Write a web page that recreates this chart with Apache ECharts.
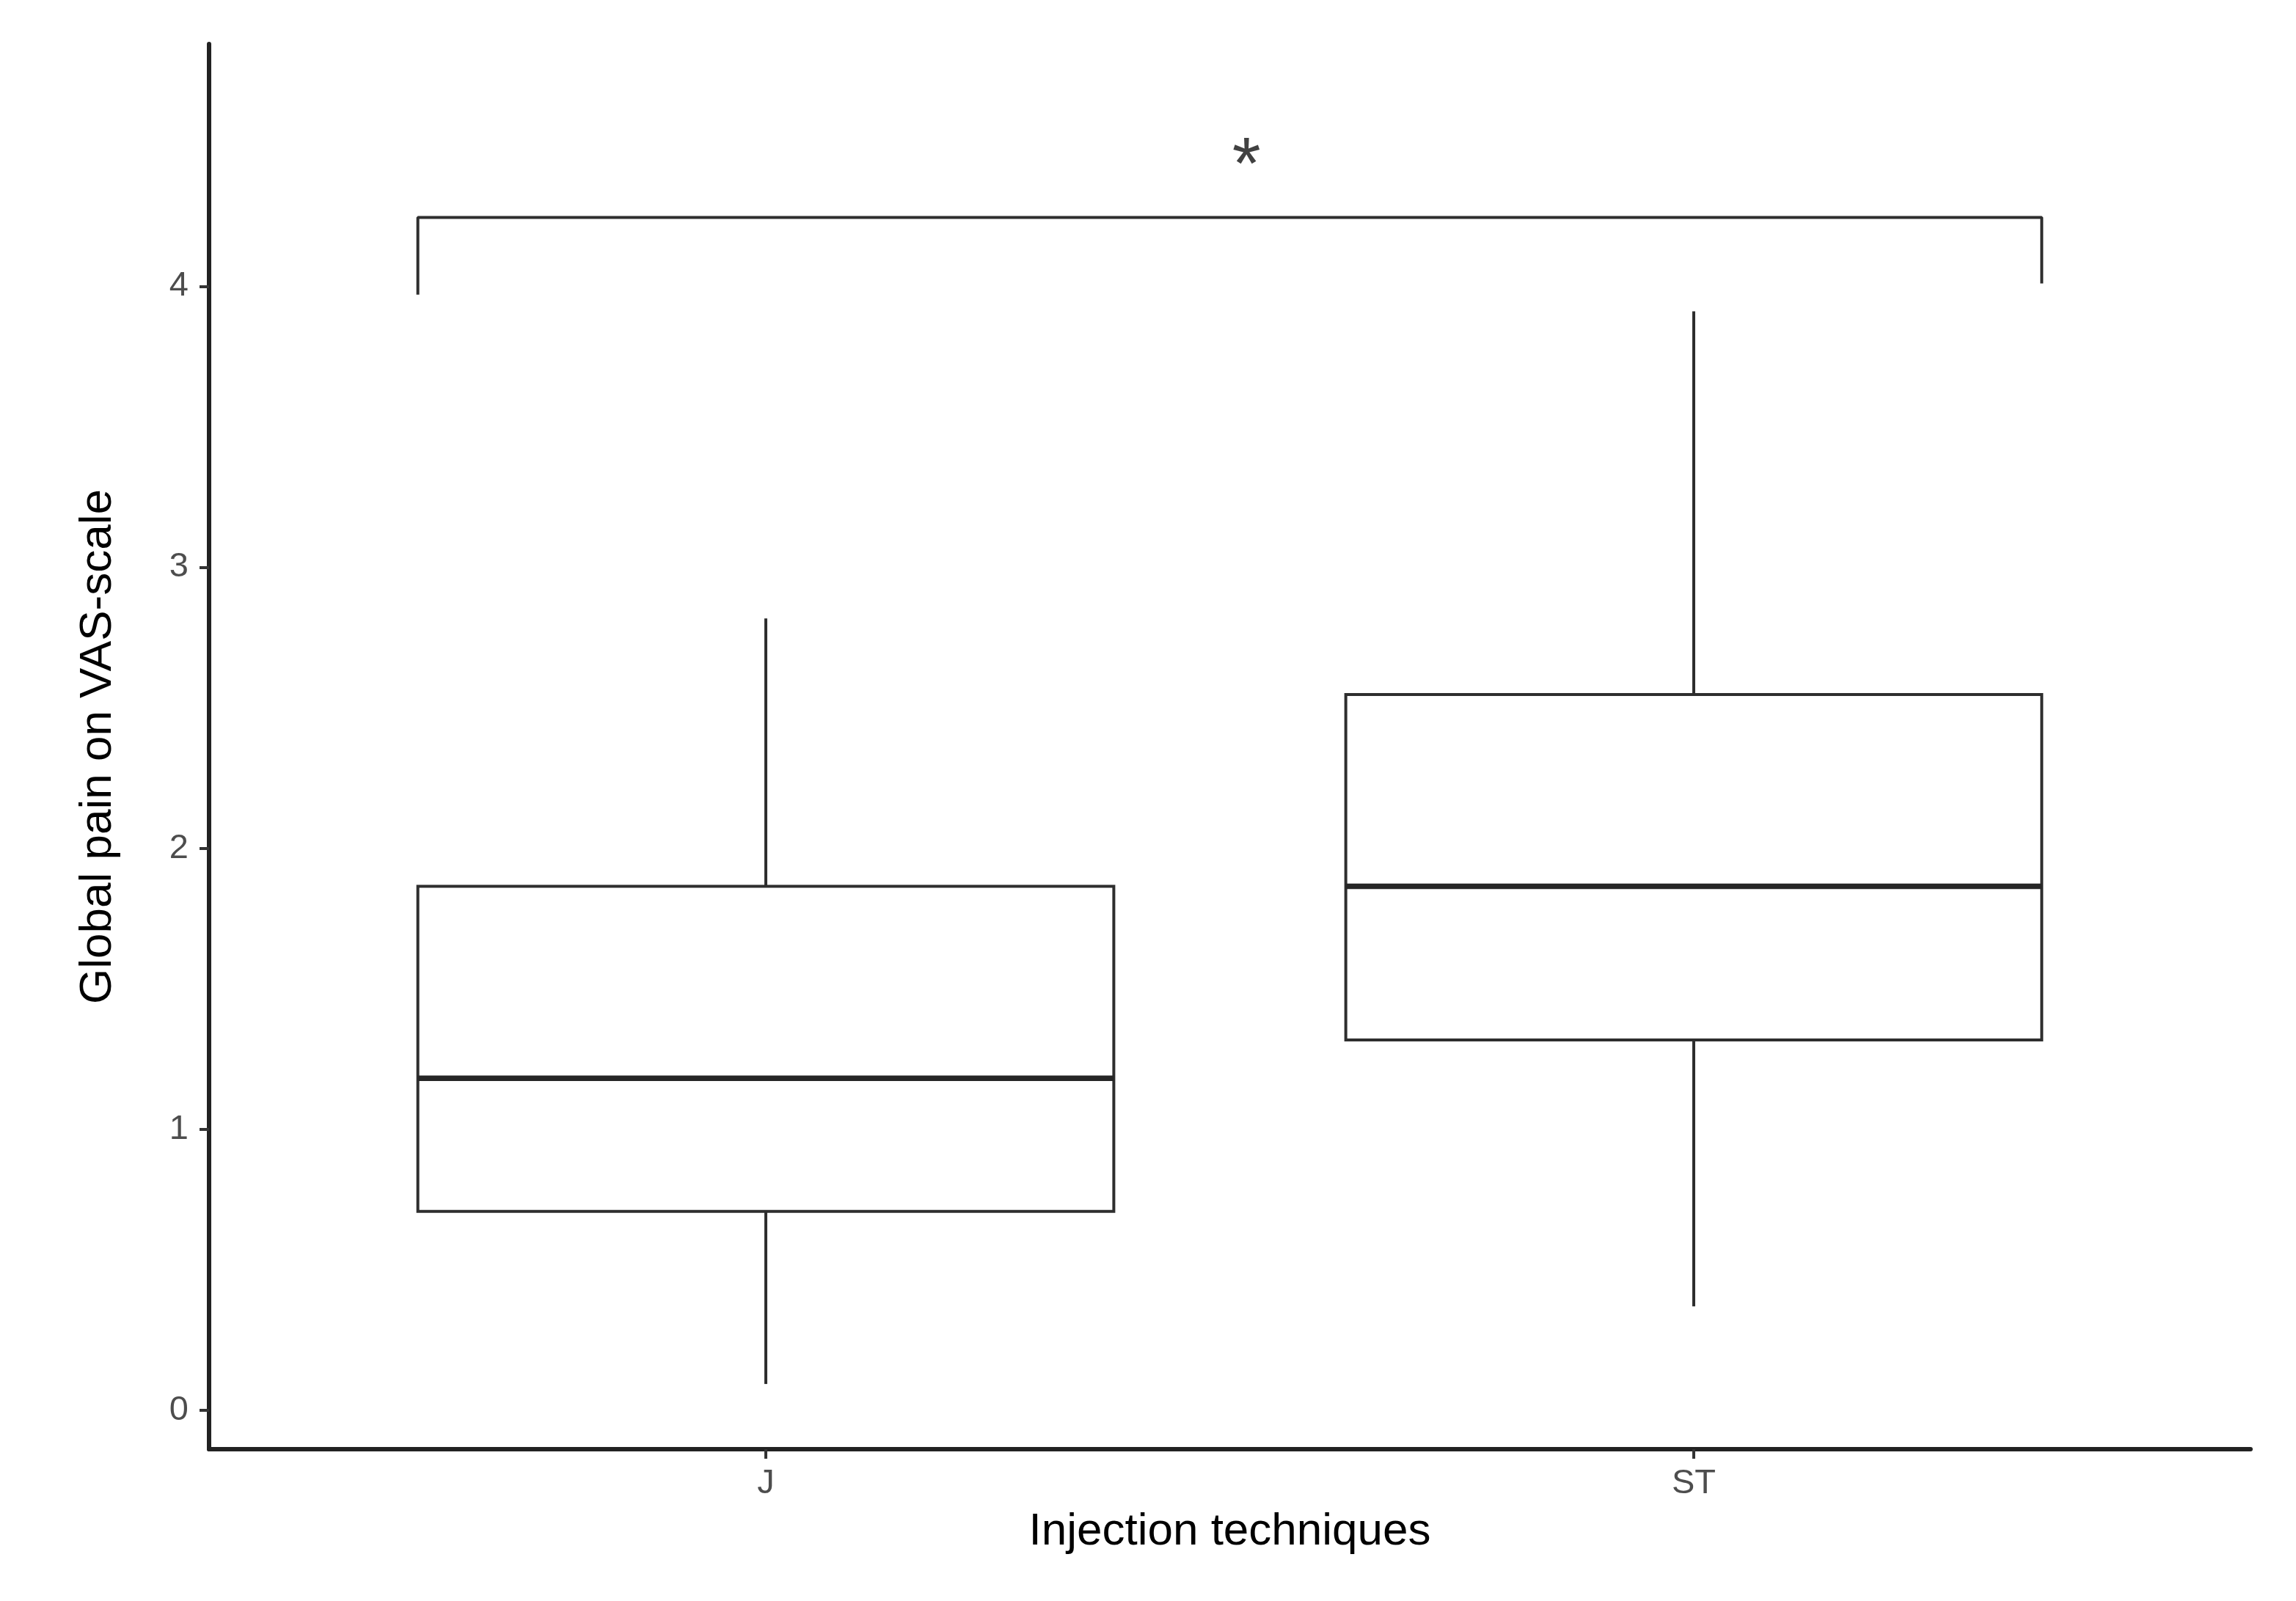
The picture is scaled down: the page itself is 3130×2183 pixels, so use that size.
<!DOCTYPE html>
<html>
<head>
<meta charset="utf-8">
<script src="https://cdn.jsdelivr.net/npm/echarts@6/dist/echarts.min.js"></script>
<style>
  html, body { margin: 0; padding: 0; background: #fff; }
  #chart { width: 3130px; height: 2183px; }
</style>
</head>
<body>
<div id="chart"></div>
<script>
// data
const categories = ["J", "ST"]
const whiskerLow = [0.094, 0.37]
const q1 = [0.708, 1.318]
const median = [1.182, 1.865]
const q3 = [1.865, 2.547]
const whiskerHigh = [2.818, 3.911]
const yTicks = [0, 1, 2, 3, 4]

// significance bracket J vs ST
const bracketX = [0.625, 0.625, 2.375, 2.375]
const bracketY = [3.97, 4.245, 4.245, 4.01]
const starLabel = "*"
const starPos = [1.518, 4.42]

const boxData = categories.map((c, i) => [i + 1, whiskerLow[i], q1[i], median[i], q3[i], whiskerHigh[i]])
const bracketData = bracketX.map((x, i) => [x, bracketY[i]])

const lineCol = "#2e2e2e"
const halfW = 0.375

const chart = echarts.init(document.getElementById("chart"))

const options = {
  animation: false,
  grid: { left: 285, right: 62, top: 60, bottom: 207 },
  xAxis: {
    type: "value",
    min: 0.4,
    max: 2.6,
    name: "Injection techniques",
    nameLocation: "middle",
    nameGap: 82,
    nameTextStyle: { fontFamily: "Liberation Sans", fontSize: 62, color: "#000" },
    axisLine: { show: true, onZero: false, lineStyle: { color: "#222", width: 6 } },
    axisTick: { show: true, customValues: [1, 2], length: 13, lineStyle: { color: "#333", width: 4 } },
    axisLabel: {
      customValues: [1, 2],
      formatter: (v) => categories[Math.round(v) - 1] || "",
      fontFamily: "Liberation Sans",
      fontSize: 47,
      color: "#4d4d4d",
      margin: 24
    },
    splitLine: { show: false }
  },
  yAxis: {
    type: "value",
    min: -0.138,
    max: 4.862,
    name: "Global pain on VAS-scale",
    nameLocation: "middle",
    nameGap: 120,
    nameTextStyle: { fontFamily: "Liberation Sans", fontSize: 62, color: "#000" },
    axisLine: { show: true, onZero: false, lineStyle: { color: "#222", width: 6 } },
    axisTick: { show: true, customValues: yTicks, length: 13, lineStyle: { color: "#333", width: 4 } },
    axisLabel: {
      customValues: yTicks,
      fontFamily: "Liberation Sans",
      fontSize: 47,
      color: "#4d4d4d",
      margin: 28
    },
    splitLine: { show: false }
  },
  series: [
    {
      type: "custom",
      data: boxData,
      encode: { x: 0, y: [1, 2, 3, 4, 5] },
      renderItem: (params, api) => {
        const x = api.value(0)
        const pLow = api.coord([x, api.value(1)])
        const pQ1 = api.coord([x, api.value(2)])
        const pMed = api.coord([x, api.value(3)])
        const pQ3 = api.coord([x, api.value(4)])
        const pHigh = api.coord([x, api.value(5)])
        const left = api.coord([x - halfW, 0])[0]
        const right = api.coord([x + halfW, 0])[0]
        const st = { stroke: lineCol, lineWidth: 4, fill: null }
        return {
          type: "group",
          children: [
            { type: "line", shape: { x1: pQ3[0], y1: pQ3[1], x2: pHigh[0], y2: pHigh[1] }, style: st },
            { type: "line", shape: { x1: pQ1[0], y1: pQ1[1], x2: pLow[0], y2: pLow[1] }, style: st },
            {
              type: "rect",
              shape: { x: left, y: pQ3[1], width: right - left, height: pQ1[1] - pQ3[1] },
              style: { stroke: lineCol, lineWidth: 4, fill: "#fff" }
            },
            {
              type: "line",
              shape: { x1: left, y1: pMed[1], x2: right, y2: pMed[1] },
              style: { stroke: "#262626", lineWidth: 7.5 }
            }
          ]
        }
      }
    },
    {
      type: "line",
      data: bracketData,
      symbol: "none",
      lineStyle: { color: lineCol, width: 4 }
    },
    {
      type: "scatter",
      data: [starPos],
      symbolSize: 0,
      label: {
        show: true,
        formatter: starLabel,
        position: "inside",
        fontFamily: "Liberation Sans",
        fontSize: 100,
        color: "#111"
      }
    }
  ]
}

chart.setOption(options)
</script>
</body>
</html>
